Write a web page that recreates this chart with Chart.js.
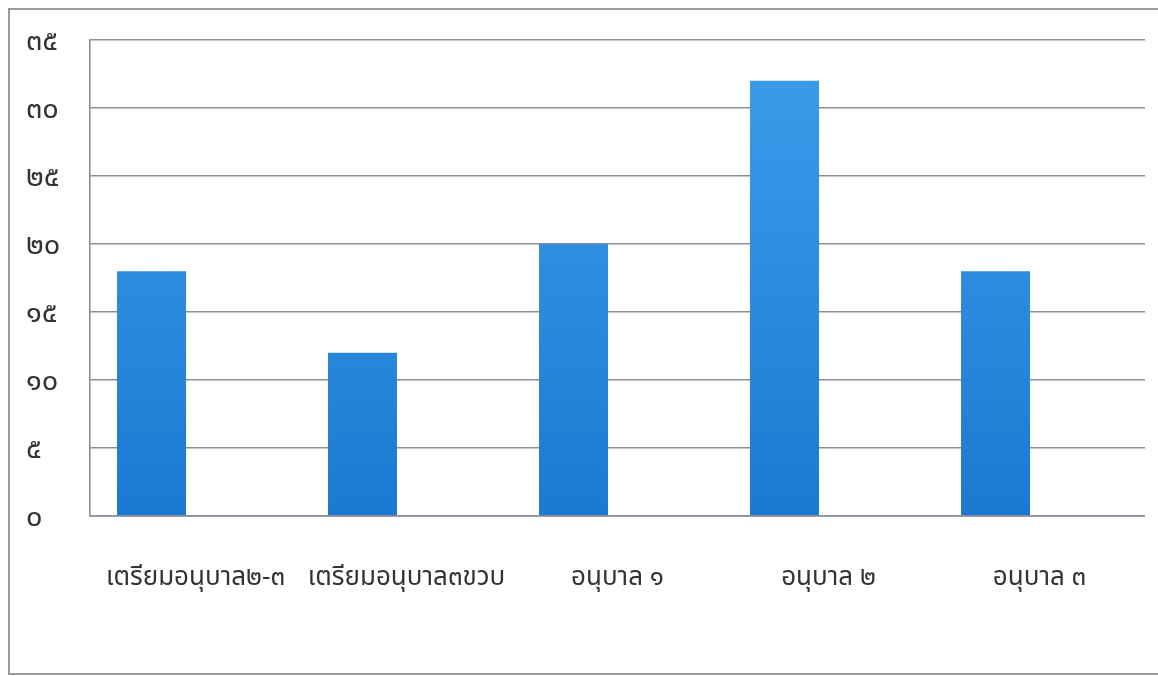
<!DOCTYPE html>
<html>
<head>
<meta charset="utf-8">
<script src="https://cdn.jsdelivr.net/npm/chart.js@4"></script>
<style>
  html, body { margin: 0; padding: 0; background: #fff; overflow: hidden; }
  #frame {
    position: absolute; left: 8px; top: 8px; width: 1160px; height: 663px;
    border: 2px solid #9a9aa2; border-right: none;
  }
  #wrap { position: absolute; left: 0; top: 0; width: 1158px; height: 676px; }
</style>
</head>
<body>
<div id="frame"></div>
<div id="wrap"><canvas id="chart" width="1158" height="676"></canvas></div>
<script>
// Categories and values
const categories = ['เตรียมอนุบาล๒-๓', 'เตรียมอนุบาล๓ขวบ', 'อนุบาล ๑', 'อนุบาล ๒', 'อนุบาล ๓'];
const students = [18, 12, 20, 32, 18];
// second (empty) series of the original Word chart, keeps bars left of centre
const emptySeries = [null, null, null, null, null];
const yTickLabels = ['๐', '๕', '๑๐', '๑๕', '๒๐', '๒๕', '๓๐', '๓๕'];

const thaiFont = "'Noto Sans Thai', 'Noto Sans', 'DejaVu Sans', sans-serif";

function barGradient(context) {
  const chart = context.chart;
  const area = chart.chartArea;
  if (!area) return '#2a8ae0';
  const g = chart.ctx.createLinearGradient(0, area.top, 0, area.bottom);
  g.addColorStop(0, '#3d9eec');
  g.addColorStop(1, '#1c79d2');
  return g;
}

const ctx = document.getElementById('chart').getContext('2d');
new Chart(ctx, {
  type: 'bar',
  data: {
    labels: categories,
    datasets: [
      {
        label: 'จำนวน',
        data: students,
        backgroundColor: barGradient,
        borderWidth: 0,
        categoryPercentage: 0.834,
        barPercentage: 0.784
      },
      {
        label: '',
        data: emptySeries,
        backgroundColor: 'rgba(0,0,0,0)',
        categoryPercentage: 0.834,
        barPercentage: 0.784
      }
    ]
  },
  options: {
    responsive: false,
    animation: false,
    layout: {
      padding: { left: 26, top: 40, right: 13, bottom: 0 }
    },
    plugins: {
      legend: { display: false },
      tooltip: { enabled: false }
    },
    scales: {
      x: {
        grid: { display: false, drawTicks: false },
        border: { display: false },
        ticks: {
          color: '#333',
          font: { family: thaiFont, size: 26 },
          padding: 48,
          maxRotation: 0,
          autoSkip: false
        },
        afterFit: (scale) => { scale.height = 160; }
      },
      y: {
        min: 0,
        max: 35,
        grid: {
          color: '#8e8e9a',
          lineWidth: 1.6,
          drawTicks: false
        },
        border: { display: true, color: '#8e8e9a', width: 1.6 },
        ticks: {
          stepSize: 5,
          color: '#333',
          crossAlign: 'far',
          labelOffset: 4,
          font: { family: thaiFont, size: 29 },
          callback: (value) => yTickLabels[value / 5]
        },
        afterFit: (scale) => { scale.width = 64; }
      }
    }
  },
  plugins: [{
    id: 'bottomAxisLine',
    afterDatasetsDraw(chart) {
      const { ctx, chartArea } = chart;
      ctx.save();
      ctx.strokeStyle = '#8e8e9a';
      ctx.lineWidth = 1.6;
      ctx.beginPath();
      ctx.moveTo(chartArea.left, chartArea.bottom);
      ctx.lineTo(chartArea.right, chartArea.bottom);
      ctx.stroke();
      ctx.restore();
    }
  }]
});
</script>
</body>
</html>
